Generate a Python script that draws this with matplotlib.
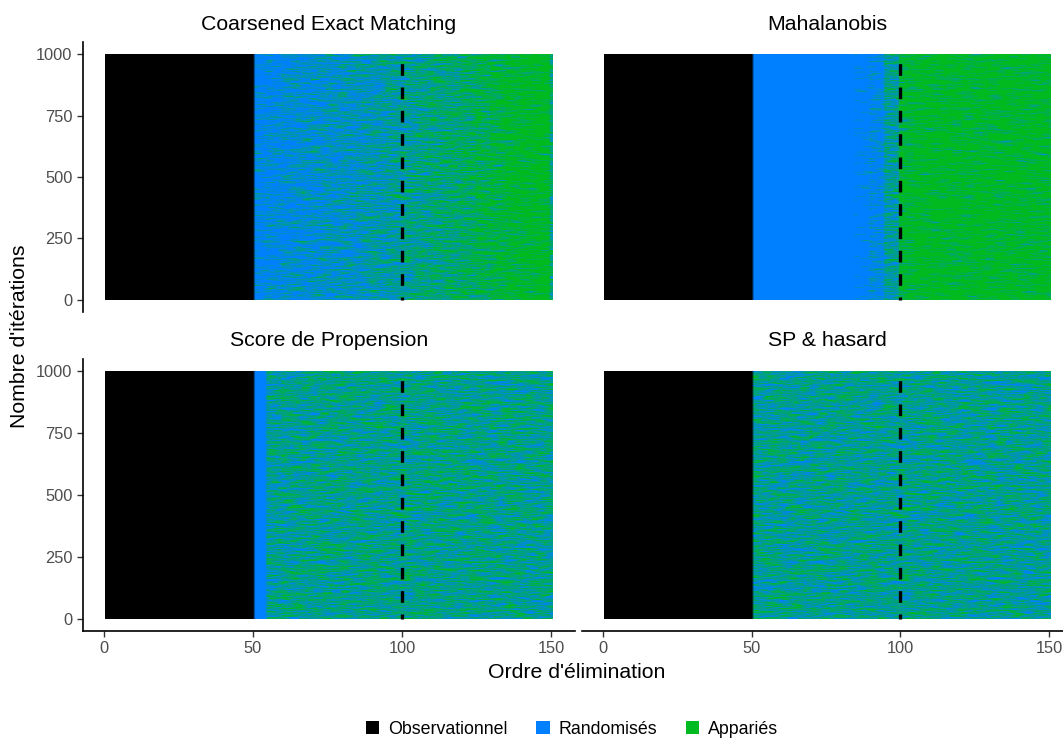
import matplotlib
matplotlib.use("Agg")
from matplotlib import pyplot as plt
from matplotlib.colors import ListedColormap
from matplotlib.patches import Patch
import numpy as np

plt.rcParams['font.family'] = ['Liberation Sans', 'DejaVu Sans']

# data
n_iter = 1000
n_order = 150
n_obs = 50
methods = ["Coarsened Exact Matching", "Mahalanobis", "Score de Propension", "SP & hasard"]
categories = ["Observationnel", "Randomisés", "Appariés"]
colors = ["#000000", "#0080ff", "#00bb1f"]
cut_order = 100

# first elimination order of each bin (bin runs to the next start)
bin_starts = [51, 55, 60, 65, 70, 75, 80, 85, 90, 95, 100,
              105, 110, 115, 120, 125, 130, 135, 140, 145, 150]
# share of "Appariés" among the iterations, per bin
share_cem = [0.10, 0.15, 0.20, 0.22, 0.25, 0.28, 0.30, 0.34, 0.38, 0.43, 0.48,
             0.53, 0.58, 0.64, 0.70, 0.76, 0.83, 0.88, 0.92, 0.94, 0.60]
share_maha = [0.00, 0.00, 0.00, 0.00, 0.00, 0.00, 0.00, 0.03, 0.12, 0.45, 0.88,
              0.92, 0.92, 0.92, 0.92, 0.92, 0.92, 0.92, 0.92, 0.92, 0.90]
share_ps = [0.00, 0.45, 0.52, 0.52, 0.52, 0.52, 0.52, 0.52, 0.52, 0.52, 0.52,
            0.52, 0.52, 0.52, 0.52, 0.52, 0.52, 0.52, 0.52, 0.52, 0.52]
share_ps_rand = [0.50, 0.50, 0.50, 0.50, 0.50, 0.50, 0.50, 0.50, 0.50, 0.50, 0.50,
                 0.50, 0.50, 0.50, 0.50, 0.50, 0.50, 0.50, 0.50, 0.50, 0.50]
shares = [share_cem, share_maha, share_ps, share_ps_rand]


def hash01(a, b):
    # integer hash -> [0, 1), used only as a dither threshold
    x = (a.astype(np.uint64) * 73856093) ^ (b.astype(np.uint64) * 19349663)
    x &= 0xFFFFFFFF
    x ^= x >> 16
    x = (x * 0x7feb352d) & 0xFFFFFFFF
    x ^= x >> 15
    x = (x * 0x846ca68b) & 0xFFFFFFFF
    x ^= x >> 16
    return x.astype(float) / 2.0**32


def build_grid(share):
    # per-column share from the bins
    col_share = np.zeros(n_order)
    edges = bin_starts + [n_order + 1]
    for k in range(len(bin_starts)):
        col_share[edges[k] - 1:edges[k + 1] - 1] = share[k]
    i = np.arange(n_iter)[:, None] * np.ones((1, n_order), dtype=int)
    j = np.arange(n_order)[None, :] * np.ones((n_iter, 1), dtype=int)
    # short horizontal runs, like the streaks of the original
    shift = (hash01(i, j * 0 + 7777) * 3).astype(int)
    thresh = hash01(i, (j + shift) // 3)
    grid = np.where(thresh < col_share[None, :], 2, 1)
    grid[:, :n_obs] = 0
    return grid


W, H = 1063, 740
fig = plt.figure(figsize=(W / 100, H / 100), dpi=100)

# pixel boxes (left, top, right, bottom)
boxes = [(83, 42, 575, 312), (582, 42, 1073, 312),
         (83, 359, 575, 631), (582, 359, 1073, 631)]
cmap = ListedColormap(colors)

for idx, (name, share) in enumerate(zip(methods, shares)):
    l, t, r, b = boxes[idx]
    ax = fig.add_axes([l / W, 1 - b / H, (r - l) / W, (b - t) / H])
    grid = build_grid(share)
    ax.imshow(grid, cmap=cmap, vmin=0, vmax=2, origin='lower', aspect='auto',
              extent=(0.5, n_order + 0.5, 0.5, n_iter + 0.5),
              interpolation='antialiased', interpolation_stage='rgba')
    ax.vlines(cut_order, n_iter + 0.5, 0.5, color='black', lw=2.4,
              linestyle=(4.1, (3.5, 3.5)))
    ax.set_xlim(-7, 158)
    ax.set_ylim(-50, 1050)
    ax.set_title(name, fontsize=15.3, pad=9)
    for s in ax.spines.values():
        s.set_visible(False)
    left = idx % 2 == 0
    bottom = idx >= 2
    ax.set_xticks([0, 50, 100, 150])
    ax.set_yticks([0, 250, 500, 750, 1000])
    ax.tick_params(colors='#333333', labelcolor='#4d4d4d', labelsize=11.8,
                   length=4, width=1)
    if left:
        ax.spines['left'].set_visible(True)
        ax.spines['left'].set_linewidth(1.2)
    else:
        ax.tick_params(axis='y', left=False, labelleft=False)
    if bottom:
        ax.spines['bottom'].set_visible(True)
        ax.spines['bottom'].set_linewidth(1.2)
    else:
        ax.tick_params(axis='x', bottom=False, labelbottom=False)

fig.text(577 / W, 1 - 672 / H, "Ordre d'élimination", ha='center', va='center', fontsize=15.3)
fig.text(20 / W, 1 - 336 / H, "Nombre d'itérations", ha='center', va='center',
         rotation=90, fontsize=15.3)

handles = [Patch(facecolor=c, edgecolor='none') for c in colors]
fig.legend(handles, categories, loc='center', bbox_to_anchor=(572 / W, 1 - 729 / H),
           ncol=3, frameon=False, fontsize=12.8, handlelength=0.75, handleheight=0.75,
           handletextpad=0.5, columnspacing=1.6)

fig.savefig("out.png", dpi=100)
